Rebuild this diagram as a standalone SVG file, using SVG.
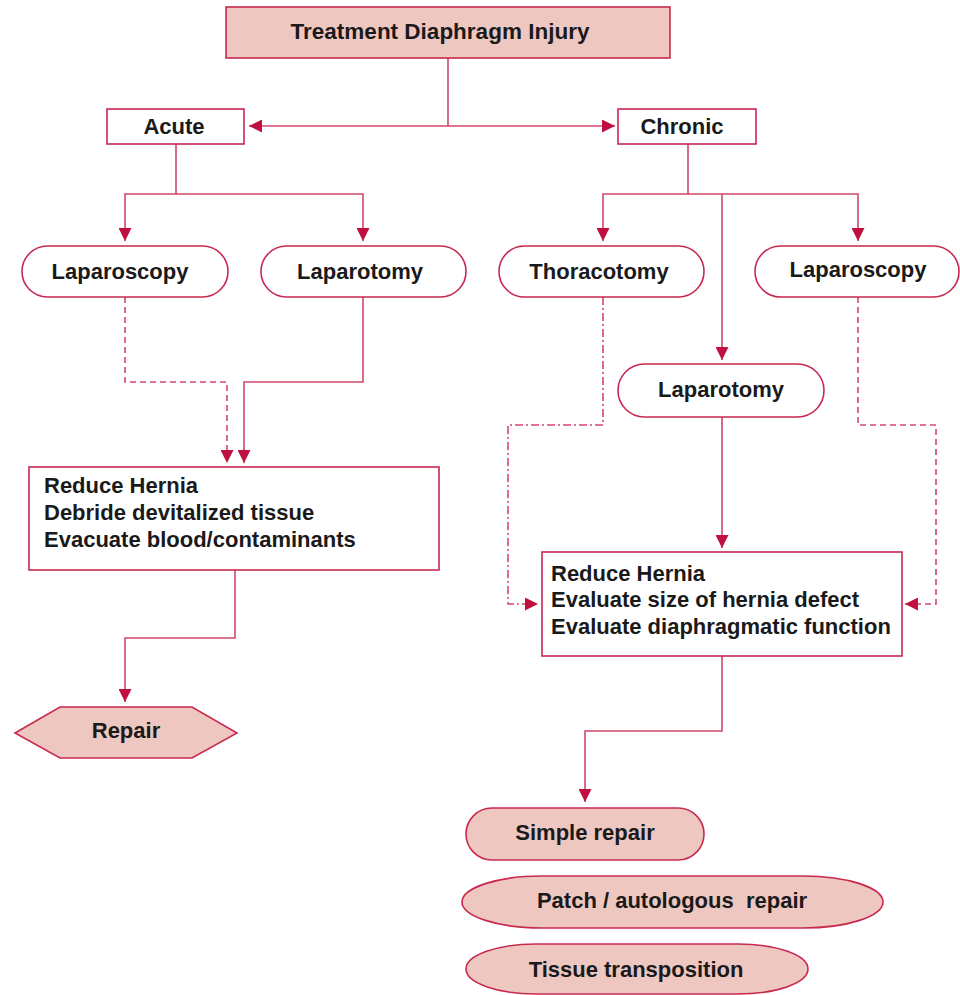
<svg xmlns="http://www.w3.org/2000/svg" width="960" height="995" viewBox="0 0 960 995">
<style>
.box{fill:#ffffff;stroke:#c8294f;stroke-width:1.6}
.fill{fill:#efc7c1;stroke:#c8294f;stroke-width:1.6}
.ln{fill:none;stroke:#d3486c;stroke-width:1.6}
.dash{fill:none;stroke:#d3486c;stroke-width:1.6;stroke-dasharray:6 4}
.dd{fill:none;stroke:#d3486c;stroke-width:1.6;stroke-dasharray:8 3 2 3}
text{font-family:"Liberation Sans",Arial,sans-serif;font-weight:bold;font-size:22px;fill:#1a1a1a}
.c{text-anchor:middle}
</style>
<defs>
<marker id="ah" markerWidth="13" markerHeight="13" refX="13" refY="6.5" orient="auto" markerUnits="userSpaceOnUse">
<path d="M0,0 L13,6.5 L0,13 Z" fill="#c0103f"/>
</marker>
</defs>
<rect width="960" height="995" fill="#ffffff"/>
<g id="connectors">
<path class="ln" d="M448,58 V126"/>
<path class="ln" d="M448,126 H249" marker-end="url(#ah)"/>
<path class="ln" d="M448,126 H615" marker-end="url(#ah)"/>
<path class="ln" d="M176,144 V194 H125 V241" marker-end="url(#ah)"/>
<path class="ln" d="M176,194 H363 V241" marker-end="url(#ah)"/>
<path class="ln" d="M688,144 V194 H603 V241" marker-end="url(#ah)"/>
<path class="ln" d="M688,194 H858 V241" marker-end="url(#ah)"/>
<path class="ln" d="M722,194 V360" marker-end="url(#ah)"/>
<path class="dash" d="M125,297 V382 H227 V463" marker-end="url(#ah)"/>
<path class="ln" d="M363,297 V382 H244 V463" marker-end="url(#ah)"/>
<path class="dd" d="M603,297 V425 H508 V604 H538" marker-end="url(#ah)"/>
<path class="dash" d="M858,297 V425 H936 V604 H905" marker-end="url(#ah)"/>
<path class="ln" d="M722,417 V548" marker-end="url(#ah)"/>
<path class="ln" d="M235,570 V638 H125 V702" marker-end="url(#ah)"/>
<path class="ln" d="M722,656 V731 H585 V802" marker-end="url(#ah)"/>
</g>
<g id="n-treatment">
<rect class="fill" x="226" y="7" width="444" height="51"/>
<text class="c" x="440" y="39" style="font-size:22.5px">Treatment Diaphragm Injury</text>
</g>
<g id="n-acute">
<rect class="box" x="107" y="109" width="137" height="35"/>
<text class="c" x="174" y="134">Acute</text>
</g>
<g id="n-chronic">
<rect class="box" x="618" y="109" width="138" height="35"/>
<text class="c" x="682" y="134">Chronic</text>
</g>
<g id="n-laparoscopy-l">
<rect class="box" x="22" y="246" width="206" height="51" rx="25.5"/>
<text class="c" x="120" y="279">Laparoscopy</text>
</g>
<g id="n-laparotomy-l">
<rect class="box" x="261" y="246" width="205" height="51" rx="25.5"/>
<text class="c" x="360" y="279">Laparotomy</text>
</g>
<g id="n-thoracotomy">
<rect class="box" x="499" y="246" width="205" height="51" rx="25.5"/>
<text class="c" x="599" y="279">Thoracotomy</text>
</g>
<g id="n-laparoscopy-r">
<rect class="box" x="755" y="246" width="204" height="51" rx="25.5"/>
<text class="c" x="858" y="277">Laparoscopy</text>
</g>
<g id="n-laparotomy-m">
<rect class="box" x="618" y="364" width="206" height="53" rx="26.5"/>
<text class="c" x="721" y="397">Laparotomy</text>
</g>
<g id="n-acute-steps">
<rect class="box" x="29" y="467" width="410" height="103"/>
<text x="44" y="493">Reduce Hernia</text>
<text x="44" y="520">Debride devitalized tissue</text>
<text x="44" y="547">Evacuate blood/contaminants</text>
</g>
<g id="n-chronic-steps">
<rect class="box" x="542" y="552" width="360" height="104"/>
<text x="551" y="581">Reduce Hernia</text>
<text x="551" y="607">Evaluate size of hernia defect</text>
<text x="551" y="634">Evaluate diaphragmatic function</text>
</g>
<g id="n-repair">
<polygon class="fill" points="15,733 60,707 192,707 237,733 192,758 60,758"/>
<text class="c" x="126" y="738">Repair</text>
</g>
<g id="n-simple">
<rect class="fill" x="466" y="808" width="238" height="52" rx="26"/>
<text class="c" x="585" y="840">Simple repair</text>
</g>
<g id="n-patch">
<rect class="fill" x="462" y="876" width="421" height="52" rx="80" ry="26"/>
<text class="c" x="672" y="908" xml:space="preserve">Patch / autologous  repair</text>
</g>
<g id="n-tissue">
<rect class="fill" x="466" y="944" width="342" height="50" rx="70" ry="25"/>
<text class="c" x="636" y="977">Tissue transposition</text>
</g>
</svg>
